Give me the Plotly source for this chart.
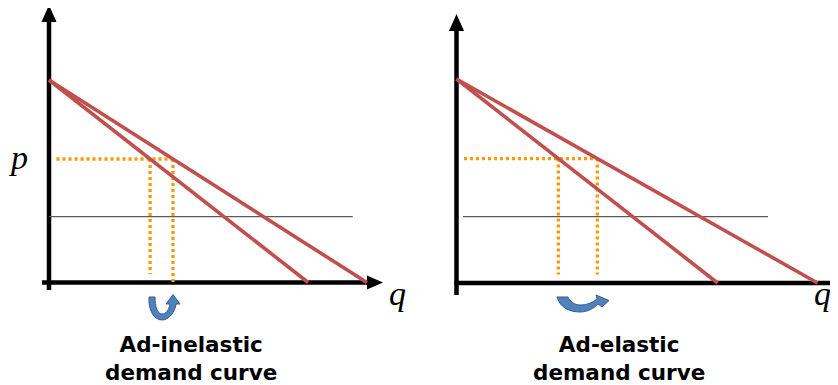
import plotly.graph_objects as go

# ---------------- data ----------------
panel_titles_line1 = ["Ad-inelastic", "Ad-elastic"]
panel_titles_line2 = ["demand curve", "demand curve"]
price_axis_label = "p"
quantity_axis_label = "q"

price_intercept = [10.0, 10.0]        # both demand curves start here
q_intercept_steep = [12.8, 12.8]      # original demand curve
q_intercept_flat = [15.7, 17.7]       # demand curve after advertising
price_level = [6.1, 6.1]              # dotted price p
reference_level = [3.25, 3.25]        # thin horizontal reference line
reference_start = [0.0, 0.32]
reference_end = [15.0, 15.27]

# ---------------- layout geometry (pixels) ----------------
OFF = 8            # default page margin of the html body
W, H = 830, 377    # figure size so that it fits inside the 838x385 window
# per panel: origin pixel (screen coords), px per unit, domain
origin_px = [(49.0, 282.5), (456.5, 283.0)]
scale_px = [20.25, 20.4]
domains = [(0.0, 0.5), (0.5, 1.0)]

RED = "#C0504D"
ORANGE = "#FF9900"
GREY = "#5A5A5A"
BLUE = "#4F81BD"
BLUE_EDGE = "#385D8A"

fig = go.Figure()
shapes = []
annotations = []

for i in range(2):
    xa = "x" if i == 0 else "x2"
    ya = "y" if i == 0 else "y2"
    ox, oy = origin_px[i]
    s = scale_px[i]
    d0, d1 = domains[i]
    left_px, right_px = d0 * W + OFF, d1 * W + OFF
    xr = [(left_px - ox) / s, (right_px - ox) / s]
    yr = [(oy - (H + OFF)) / s, (oy - OFF) / s]
    axkey = "xaxis" if i == 0 else "xaxis2"
    aykey = "yaxis" if i == 0 else "yaxis2"
    fig.update_layout(**{
        axkey: dict(domain=[d0, d1], range=xr, visible=False, fixedrange=True, anchor=ya),
        aykey: dict(domain=[0, 1], range=yr, visible=False, fixedrange=True, anchor=xa),
    })

    P0 = price_intercept[i]
    Qs = q_intercept_steep[i]
    Qf = q_intercept_flat[i]
    p = price_level[i]
    q_s = Qs * (1 - p / P0)
    q_f = Qf * (1 - p / P0)

    # grey reference line
    fig.add_trace(go.Scatter(
        x=[reference_start[i], reference_end[i]], y=[reference_level[i]] * 2,
        mode="lines", line=dict(color=GREY, width=1.2), xaxis=xa, yaxis=ya,
        hoverinfo="skip", showlegend=False))

    # orange dotted guides
    dot = dict(color=ORANGE, width=3.3, dash="3px,3px")
    h_start = 7.5 / s
    fig.add_trace(go.Scatter(x=[h_start, q_f], y=[p, p], mode="lines", line=dot,
                             xaxis=xa, yaxis=ya, hoverinfo="skip", showlegend=False))
    bottom_short = 8.5 / s
    bottom_flat = 0.0 if i == 0 else bottom_short
    fig.add_trace(go.Scatter(x=[q_s, q_s], y=[p, bottom_short], mode="lines", line=dot,
                             xaxis=xa, yaxis=ya, hoverinfo="skip", showlegend=False))
    fig.add_trace(go.Scatter(x=[q_f, q_f], y=[p, bottom_flat], mode="lines", line=dot,
                             xaxis=xa, yaxis=ya, hoverinfo="skip", showlegend=False))

    # demand curves
    for Q in (Qs, Qf):
        fig.add_trace(go.Scatter(x=[0, Q], y=[P0, 0], mode="lines",
                                 line=dict(color=RED, width=3.6),
                                 xaxis=xa, yaxis=ya, hoverinfo="skip", showlegend=False))

    # axes (thick black with arrowheads)
    if i == 0:
        y_bot, y_base, y_tip = -7.5 / s, (oy - 21) / s, (oy - 5) / s
        x_left, x_base, x_tip = -7.0 / s, (368 - ox) / s, (383 - ox) / s
    else:
        y_bot, y_base, y_tip = -12.0 / s, (oy - 30) / s, (oy - 14) / s
        x_left, x_base, x_tip = -2.0 / s, (833 - ox) / s, (849 - ox) / s
    shapes.append(dict(type="line", xref=xa, yref=ya, x0=0, x1=0, y0=y_bot, y1=y_base,
                       line=dict(color="black", width=4.5), layer="below"))
    shapes.append(dict(type="line", xref=xa, yref=ya, x0=x_left, x1=x_base, y0=0, y1=0,
                       line=dict(color="black", width=4.5), layer="below"))
    shapes.append(dict(type="path", xref=xa, yref=ya, xsizemode="pixel", ysizemode="pixel",
                       xanchor=0, yanchor=y_tip, path="M0,0 L-7.5,-17 L7.5,-17 Z",
                       fillcolor="black", line=dict(width=0), layer="below"))
    shapes.append(dict(type="path", xref=xa, yref=ya, xsizemode="pixel", ysizemode="pixel",
                       xanchor=x_tip, yanchor=0, path="M0,0 L-16,7 L-16,-7 Z",
                       fillcolor="black", line=dict(width=0), layer="below"))

    # curved blue arrows (decorative), anchored between the two quantities
    mid_q = (q_s + q_f) / 2
    if i == 0:
        arrow_path = ("M-12.5,-14.5 C-13.5,-27.5 -7.5,-37.5 0.5,-37.5 "
                      "C7.5,-37.5 13.5,-29.5 14.5,-21.5 L18.5,-21.5 L11.5,-12.0 "
                      "L4.5,-21.5 L8.5,-21.5 C7.5,-27.5 4.5,-31.5 0.5,-31.5 "
                      "C-4.5,-31.5 -6.5,-23.5 -6.5,-14.5 Z")
    else:
        arrow_path = ("M-20.8,-14 C-17.8,-25 -7.8,-29 2.2,-29 "
                      "C10.2,-29 16.2,-25 20.2,-21 L24.2,-24 L31.2,-17.5 "
                      "L18.2,-12 L19.2,-16 C14.2,-20 8.2,-22 2.2,-22 "
                      "C-3.8,-22 -7.8,-18 -9.8,-14 Z")
    shapes.append(dict(type="path", xref=xa, yref=ya, xsizemode="pixel", ysizemode="pixel",
                       xanchor=mid_q, yanchor=0, path=arrow_path,
                       fillcolor=BLUE, line=dict(color=BLUE_EDGE, width=1)))

    # axis letters
    if i == 0:
        p_pos = ((18.5 - ox) / s, (oy - 157) / s)
        q_pos = ((397.5 - ox) / s, (oy - 293) / s)
        t_x = (190.5 - ox) / s
    else:
        p_pos = ((421 - ox) / s, (oy - 152) / s)
        q_pos = ((822.5 - ox) / s, (oy - 293) / s)
        t_x = (619 - ox) / s
    letter_font = dict(family="Liberation Serif", size=34, color="black")
    annotations.append(dict(x=p_pos[0], y=p_pos[1], xref=xa, yref=ya, text=f"<i>{price_axis_label}</i>",
                            showarrow=False, font=letter_font, xanchor="center", yanchor="middle"))
    annotations.append(dict(x=q_pos[0], y=q_pos[1], xref=xa, yref=ya, text=f"<i>{quantity_axis_label}</i>",
                            showarrow=False, font=letter_font, xanchor="center", yanchor="middle"))

    label_font = dict(family="DejaVu Sans", size=21.5, color="black")
    annotations.append(dict(x=t_x, y=(oy - 358.5) / s, xref=xa, yref=ya,
                            text=f"<b>{panel_titles_line1[i]}</b><br><b>{panel_titles_line2[i]}</b>",
                            showarrow=False, font=label_font, xanchor="center", yanchor="middle",
                            align="center"))

fig.update_layout(
    width=W, height=H,
    margin=dict(l=0, r=0, t=0, b=0),
    paper_bgcolor="white", plot_bgcolor="white",
    shapes=shapes, annotations=annotations,
    showlegend=False,
)

fig.write_html("out.html")
